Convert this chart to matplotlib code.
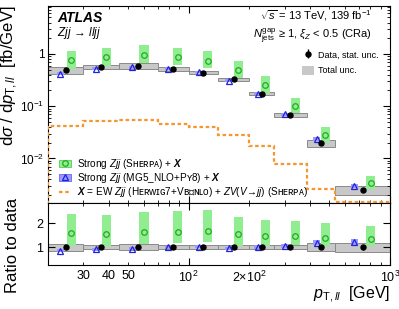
import matplotlib
matplotlib.use("Agg")
import matplotlib.pyplot as plt
import numpy as np
from matplotlib.patches import Patch
from matplotlib.lines import Line2D
from matplotlib.ticker import FixedLocator, FuncFormatter, NullFormatter

plt.rcParams["font.family"] = ["Liberation Sans", "DejaVu Sans", "Noto Sans"]
plt.rcParams["mathtext.fontset"] = "custom"
plt.rcParams["mathtext.rm"] = "Liberation Sans"
plt.rcParams["mathtext.it"] = "Liberation Sans:italic"
plt.rcParams["mathtext.bf"] = "Liberation Sans:italic:bold"

# pT,ll bins [GeV]
bin_edges = [20, 30, 45, 70, 100, 140, 200, 265, 385, 535, 1000]

# measured cross-section [fb/GeV] and relative uncertainties
data = [0.49, 0.57, 0.59, 0.52, 0.44, 0.326, 0.175, 0.067, 0.0197, 0.0025]
data_stat = [0.02, 0.015, 0.015, 0.015, 0.02, 0.02, 0.025, 0.03, 0.05, 0.10]
data_total = [0.15, 0.09, 0.13, 0.09, 0.08, 0.08, 0.07, 0.09, 0.16, 0.19]

# Strong Zjj (Sherpa) + X, with relative up/down band
sherpa = [0.77, 0.88, 0.96, 0.86, 0.74, 0.50, 0.257, 0.099, 0.0276, 0.0034]
sherpa_up = [1.51, 1.51, 1.52, 1.52, 1.51, 1.48, 1.46, 1.42, 1.43, 1.38]
sherpa_dn = [0.665, 0.68, 0.70, 0.71, 0.72, 0.68, 0.71, 0.74, 0.74, 0.76]

# Strong Zjj (MG5_NLO+Py8) + X, with relative unc.
mg5 = [0.42, 0.52, 0.555, 0.52, 0.45, 0.31, 0.175, 0.070, 0.0234, 0.0030]
mg5_unc = [0.07, 0.06, 0.06, 0.06, 0.06, 0.07, 0.07, 0.08, 0.09, 0.10]

# X = EW Zjj + ZV(V->jj)
ew = [0.042, 0.052, 0.055, 0.0465, 0.040, 0.0277, 0.0172, 0.0079, 0.0026, 0.00145]

c_gray = "#c8c8c8"
c_gray_edge = "#8a8a8a"
c_green = "#90ee90"
c_green_edge = "#22aa22"
c_blue = "#9a9aff"
c_blue_edge = "#2020dd"
c_orange = "#f7962f"

edges = np.array(bin_edges, dtype=float)
lo, hi = edges[:-1], edges[1:]
logw = np.log10(hi / lo)
xc = np.sqrt(lo * hi)
x_mg = xc * 10 ** (-0.15 * logw)
x_sh = xc * 10 ** (0.15 * logw)

data = np.array(data)
sherpa = np.array(sherpa)
mg5 = np.array(mg5)
tot = np.array(data_total)
stat = np.array(data_stat)
mgu = np.array(mg5_unc)

def box_edges(x, half):
    l = x * 10 ** (-half)
    r = x * 10 ** half
    return l, r - l

sh_l, sh_w = box_edges(x_sh, 0.0225)
mg_l, mg_w = box_edges(x_mg, 0.019)

fig = plt.figure(figsize=(3.99, 3.09), dpi=100)
ax = fig.add_axes([0.1203, 0.343, 0.857, 0.6376])
rax = fig.add_axes([0.1203, 0.1424, 0.857, 0.2006], sharex=ax)

# ---------- main panel ----------
ax.bar(lo, data * 2 * tot, width=hi - lo, bottom=data * (1 - tot), align="edge",
       color=c_gray, edgecolor=c_gray_edge, linewidth=0.7, zorder=1)
ax.bar(sh_l, sherpa * (np.array(sherpa_up) - np.array(sherpa_dn)), width=sh_w,
       bottom=sherpa * np.array(sherpa_dn), align="edge", color=c_green, lw=0, zorder=2)
ax.bar(mg_l, mg5 * 2 * mgu, width=mg_w, bottom=mg5 * (1 - mgu), align="edge",
       color=c_blue, lw=0, zorder=2)
ax.stairs(ew, edges, baseline=1e-5, color=c_orange, lw=1.6,
          linestyle=(0, (1.6, 1.2)), zorder=3)
ax.plot(x_sh, sherpa, "o", mfc="none", mec=c_green_edge, ms=4, mew=0.9, zorder=4)
ax.plot(x_mg, mg5, "^", mfc="none", mec=c_blue_edge, ms=4.2, mew=0.9, zorder=4)
eb = ax.errorbar(xc, data, yerr=data * stat, fmt="o", color="k", ms=3.6,
                 elinewidth=1.0, capsize=0, zorder=5)

ax.set_xscale("log")
ax.set_yscale("log")
ax.set_xlim(20, 1000)
ax.set_ylim(1.4e-3, 8.3)

def ylog_fmt(v, pos):
    if abs(v - 1) < 1e-9:
        return "1"
    return r"$10^{%d}$" % int(round(np.log10(v)))

ax.yaxis.set_major_formatter(FuncFormatter(ylog_fmt))
ax.yaxis.set_minor_formatter(NullFormatter())
ax.set_ylabel(r"d$\sigma$ / d$p_{\mathrm{T},ll}$  [fb/GeV]", fontsize=12, loc="top")
ax.yaxis.set_label_coords(-0.083, 1.0)

ax.text(0.027, 0.94, "ATLAS", transform=ax.transAxes, fontsize=10,
        fontweight="bold", fontstyle="italic", va="center")
ax.text(0.027, 0.863, r"$Zjj\,\rightarrow\,lljj$", transform=ax.transAxes,
        fontsize=8.5, va="center")
ax.text(0.948, 0.952, r"$\sqrt{s}$ = 13 TeV, 139 fb$^{-1}$", transform=ax.transAxes,
        fontsize=8, ha="right", va="center")
ax.text(0.948, 0.848, r"$N_{\mathrm{jets}}^{\mathrm{gap}}$ ≥ 1, $\xi_{Z}$ < 0.5 (CRa)",
        transform=ax.transAxes, fontsize=8, ha="right", va="center")

leg1 = ax.legend([eb, Patch(facecolor=c_gray, edgecolor="none")],
                 ["Data, stat. unc.", "Total unc."],
                 loc="upper left", bbox_to_anchor=(0.73, 0.8), frameon=False,
                 fontsize=6.5, handlelength=1.3, handleheight=1.1, handletextpad=0.5,
                 labelspacing=0.75, borderpad=0)
ax.add_artist(leg1)

h_sh = (Patch(facecolor=c_green, edgecolor="#55cc55", lw=0.6),
        Line2D([], [], marker="o", ls="none", mfc="none", mec=c_green_edge, ms=4, mew=0.9))
h_mg = (Patch(facecolor=c_blue, edgecolor="#6666ee", lw=0.6),
        Line2D([], [], marker="^", ls="none", mfc="none", mec=c_blue_edge, ms=4.2, mew=0.9))
h_ew = Line2D([], [], color=c_orange, lw=1.6, linestyle=(0, (1.6, 1.2)))
ax.legend([h_sh, h_mg, h_ew],
          [r"Strong $Zjj$ (Sʜᴇʀᴘᴀ) + $\mathbf{X}$",
           r"Strong $Zjj$ (MG5_NLO+Pʏ8) + $\mathbf{X}$",
           r"$\mathbf{X}$ = EW $Zjj$ (Hᴇʀᴡɪɢ7+Vʙꜰɴʟᴏ) + $ZV(V\!\rightarrow\!jj)$ (Sʜᴇʀᴘᴀ)"],
          loc="lower left", bbox_to_anchor=(0.018, -0.006), frameon=False,
          fontsize=7.2, handlelength=1.2, handletextpad=0.6,
          labelspacing=0.02, borderpad=0)

# ---------- ratio panel ----------
rax.bar(lo, 2 * tot, width=hi - lo, bottom=1 - tot, align="edge",
        color=c_gray, edgecolor=c_gray_edge, linewidth=0.7, zorder=1)
r_sh = sherpa / data
r_mg = mg5 / data
rax.bar(sh_l, r_sh * (np.array(sherpa_up) - np.array(sherpa_dn)), width=sh_w,
        bottom=r_sh * np.array(sherpa_dn), align="edge", color=c_green, lw=0, zorder=2)
rax.bar(mg_l, r_mg * 2 * mgu, width=mg_w, bottom=r_mg * (1 - mgu), align="edge",
        color=c_blue, lw=0, zorder=2)
rax.plot(x_sh, r_sh, "o", mfc="none", mec=c_green_edge, ms=4, mew=0.9, zorder=4)
rax.plot(x_mg, r_mg, "^", mfc="none", mec=c_blue_edge, ms=4.2, mew=0.9, zorder=4)
rax.errorbar(xc, np.ones_like(xc), yerr=stat, fmt="o", color="k", ms=3.6,
             elinewidth=1.0, capsize=0, zorder=5)
rax.set_ylim(0.25, 2.85)
rax.set_yticks([1, 2])
rax.set_yticklabels(["1", "2"])
rax.set_ylabel("Ratio to data", fontsize=12)
rax.yaxis.set_label_coords(-0.083, 0.31)
rax.set_xlabel(r"$p_{\mathrm{T},ll}$  [GeV]", fontsize=11.5, loc="right", labelpad=0)

# x ticks
rax.xaxis.set_major_locator(FixedLocator([100, 1000]))
rax.xaxis.set_minor_locator(FixedLocator([30, 40, 50, 60, 70, 80, 90,
                                          200, 300, 400, 500, 600, 700, 800, 900]))
minor_labels = {30: "30", 40: "40", 50: "50", 200: r"$2{\times}10^{2}$"}
rax.xaxis.set_major_formatter(FuncFormatter(
    lambda v, p: r"$10^{%d}$" % int(round(np.log10(v)))))
rax.xaxis.set_minor_formatter(FuncFormatter(
    lambda v, p: minor_labels.get(int(round(v)), "")))
plt.setp(ax.get_xticklabels(which="both"), visible=False)

for a in (ax, rax):
    a.tick_params(which="both", direction="in", top=True, right=True, labelsize=9)
    a.tick_params(which="major", length=5, width=0.8)
    a.tick_params(which="minor", length=2.5, width=0.6)
    for s in a.spines.values():
        s.set_linewidth(0.8)
ax.tick_params(axis="y", which="major", labelsize=8.5, pad=2.5)

fig.savefig("out.png", dpi=100)
